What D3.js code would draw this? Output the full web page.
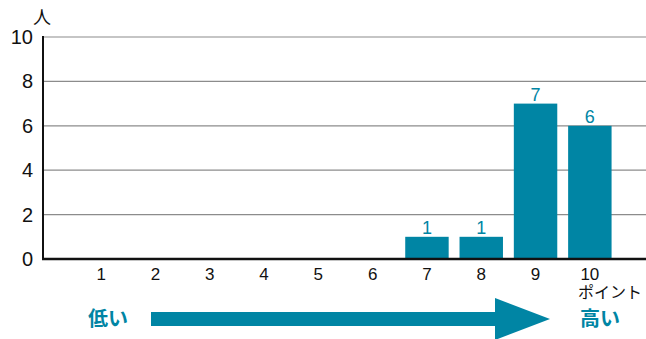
<!DOCTYPE html>
<html>
<head>
<meta charset="utf-8">
<script src="https://cdn.jsdelivr.net/npm/d3@7"></script>
<style>
  body { margin: 0; background: #fff; }
  text { font-family: "Liberation Sans", "Noto Sans CJK JP", sans-serif; }
</style>
</head>
<body>
<div id="chart-area"></div>
<script>
// data
var points = ["1", "2", "3", "4", "5", "6", "7", "8", "9", "10"];
var counts = [0, 0, 0, 0, 0, 0, 1, 1, 7, 6];
var yTicks = [0, 2, 4, 6, 8, 10];

var teal = "#0085a4";
var width = 646, height = 339;

var svg = d3.select("#chart-area")
    .append("svg")
        .attr("width", width)
        .attr("height", height);

var x = d3.scaleBand()
    .domain(points)
    .range([74, 617])
    .paddingInner(0.2)
    .paddingOuter(0.1);

var y = d3.scaleLinear()
    .domain([0, 10])
    .range([259, 37]);

// gridlines
svg.selectAll("line.grid").data(yTicks.filter(function(d){ return d > 0; }))
    .enter().append("line")
        .attr("class", "grid")
        .attr("x1", 43).attr("x2", width)
        .attr("y1", function(d){ return y(d); })
        .attr("y2", function(d){ return y(d); })
        .attr("stroke", "#8c8c8c")
        .attr("stroke-width", 1.2);

// y labels
svg.selectAll("text.ytick").data(yTicks)
    .enter().append("text")
        .attr("class", "ytick")
        .attr("x", 33)
        .attr("y", function(d){ return y(d) + 7; })
        .attr("text-anchor", "end")
        .attr("font-size", "20px")
        .attr("fill", "#111")
        .text(function(d){ return d; });

svg.append("text")
    .attr("x", 42).attr("y", 24)
    .attr("text-anchor", "middle")
    .attr("font-size", "18px")
    .attr("fill", "#111")
    .text("人");

// bars
var nonZero = points.map(function(p, i){ return { p: p, v: counts[i] }; })
    .filter(function(d){ return d.v > 0; });

svg.selectAll("rect.bar").data(nonZero)
    .enter().append("rect")
        .attr("class", "bar")
        .attr("x", function(d){ return x(d.p); })
        .attr("y", function(d){ return y(d.v); })
        .attr("width", x.bandwidth())
        .attr("height", function(d){ return y(0) - y(d.v); })
        .attr("fill", teal);

svg.selectAll("text.val").data(nonZero)
    .enter().append("text")
        .attr("class", "val")
        .attr("x", function(d){ return x(d.p) + x.bandwidth() / 2; })
        .attr("y", function(d){ return y(d.v) - 3; })
        .attr("text-anchor", "middle")
        .attr("font-size", "18px")
        .attr("fill", teal)
        .text(function(d){ return d.v; });

// axes lines
svg.append("line")
    .attr("x1", 43).attr("x2", 43)
    .attr("y1", 36).attr("y2", 260)
    .attr("stroke", "#111").attr("stroke-width", 2);
svg.append("line")
    .attr("x1", 42).attr("x2", width)
    .attr("y1", 259).attr("y2", 259)
    .attr("stroke", "#111").attr("stroke-width", 2.4);

// x labels
svg.selectAll("text.xtick").data(points)
    .enter().append("text")
        .attr("class", "xtick")
        .attr("x", function(d){ return x(d) + x.bandwidth() / 2; })
        .attr("y", 280)
        .attr("text-anchor", "middle")
        .attr("font-size", "17px")
        .attr("fill", "#111")
        .text(function(d){ return d; });

svg.append("text")
    .attr("x", 610).attr("y", 298)
    .attr("text-anchor", "middle")
    .attr("font-size", "16px")
    .attr("fill", "#111")
    .text("ポイント");

// arrow
svg.append("rect")
    .attr("x", 151).attr("y", 312)
    .attr("width", 349).attr("height", 14)
    .attr("fill", teal);
svg.append("path")
    .attr("d", "M495,298 L550,319 L495,340 Z")
    .attr("fill", teal);

svg.append("text")
    .attr("x", 108).attr("y", 326)
    .attr("text-anchor", "middle")
    .attr("font-size", "20px")
    .attr("font-weight", "bold")
    .attr("fill", teal)
    .text("低い");
svg.append("text")
    .attr("x", 600).attr("y", 326)
    .attr("text-anchor", "middle")
    .attr("font-size", "20px")
    .attr("font-weight", "bold")
    .attr("fill", teal)
    .text("高い");
</script>
</body>
</html>
